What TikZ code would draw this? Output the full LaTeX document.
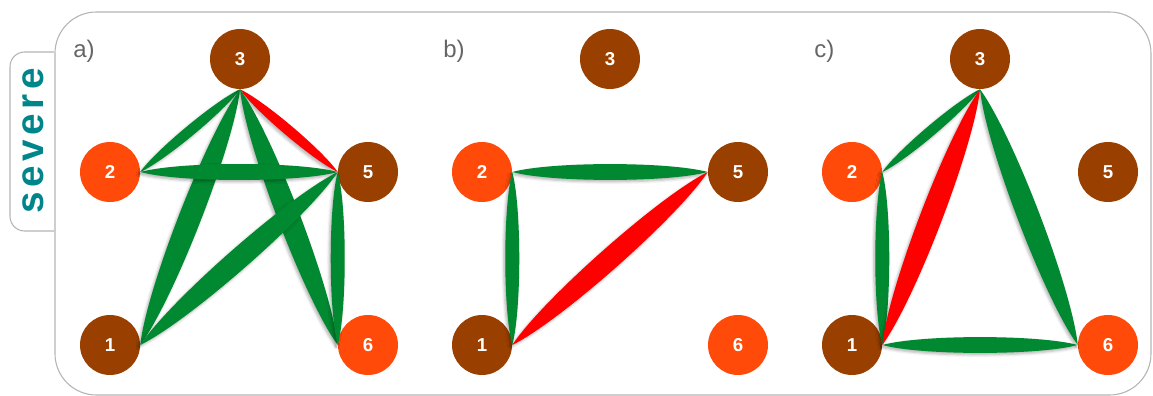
\documentclass[tikz,border=0pt]{standalone}
\usepackage{fontspec}
\setmainfont{Liberation Sans}
\newfontfamily\tabfont[LetterSpace=12]{Liberation Sans}
\usetikzlibrary{calc, shadows.blur}
\definecolor{nodebrown}{HTML}{994000}
\definecolor{nodeorange}{HTML}{FF4A0A}
\definecolor{linkgreen}{HTML}{008930}
\definecolor{linkred}{HTML}{FF0000}
\definecolor{tabteal}{HTML}{00868A}
\definecolor{framegray}{HTML}{B4B4B4}
\definecolor{labelgray}{HTML}{666666}
\tikzset{
  brownnode/.style={circle, fill=nodebrown, text=white, inner sep=0pt, minimum size=45pt,
    font=\fontsize{14}{16}\selectfont\bfseries},
  orangenode/.style={brownnode, fill=nodeorange},
  lens/.style={to path={
    .. controls ($(\tikztostart)!0.2072!15.1:(\tikztotarget)$) and ($(\tikztotarget)!0.2072!-15.1:(\tikztostart)$) .. (\tikztotarget)
    .. controls ($(\tikztotarget)!0.2072!15.1:(\tikztostart)$) and ($(\tikztostart)!0.2072!-15.1:(\tikztotarget)$) .. (\tikztostart)}},
  linkshadow/.style={blur shadow={shadow xshift=-1.2pt, shadow yshift=-1.5pt,
    shadow blur radius=2pt, shadow opacity=30}},
  goodlink/.style={fill=linkgreen, linkshadow},
  badlink/.style={fill=linkred, linkshadow},
  panellabel/.style={anchor=base west, inner sep=0pt, text=labelgray,
    font=\fontsize{18}{20}\selectfont}
}
\begin{document}
\begin{tikzpicture}[x=0.75pt, y=-0.75pt]
\useasboundingbox (0,0) rectangle (1153,396);
% tab and frame
\draw[framegray, line width=0.8pt, rounded corners=11pt] (54,52) -- (10,52) -- (10,231) -- (54,231);
\draw[framegray, line width=0.8pt, rounded corners=31pt] (55,12) rectangle (1151,395);
\node[rotate=90, anchor=base, inner sep=0pt, text=tabteal,
  font=\tabfont\bfseries\fontsize{29}{30}\selectfont] (severe) at (43,141) {severe};
% panel labels
\node[panellabel] (la) at (73,57) {a)};
\node[panellabel] (lb) at (443,57) {b)};
\node[panellabel] (lc) at (814,57) {c)};
% panel a
\node[brownnode] (a3) at (240,59) {3};
\node[orangenode] (a2) at (110,172) {2};
\node[brownnode] (a5) at (368,172) {5};
\node[brownnode] (a1) at (110,345) {1};
\node[orangenode] (a6) at (368,345) {6};
% panel b
\node[brownnode] (b3) at (610,59) {3};
\node[orangenode] (b2) at (482,172) {2};
\node[brownnode] (b5) at (738,172) {5};
\node[brownnode] (b1) at (482,345) {1};
\node[orangenode] (b6) at (738,345) {6};
% panel c
\node[brownnode] (c3) at (980,59) {3};
\node[orangenode] (c2) at (852,172) {2};
\node[brownnode] (c5) at (1108,172) {5};
\node[brownnode] (c1) at (852,345) {1};
\node[orangenode] (c6) at (1108,345) {6};
% links a
\fill[goodlink] (a3.south) to[lens] (a2.east);
\fill[badlink] (a3.south) to[lens] (a5.west);
\fill[goodlink] (a3.south) to[lens] (a1.east);
\fill[goodlink] (a3.south) to[lens] (a6.west);
\fill[goodlink] (a2.east) to[lens] (a5.west);
\fill[goodlink] (a5.west) to[lens] (a6.west);
\fill[goodlink] (a5.west) to[lens] (a1.east);
% links b
\fill[goodlink] (b2.east) to[lens] (b5.west);
\fill[goodlink] (b2.east) to[lens] (b1.east);
\fill[badlink] (b1.east) to[lens] (b5.west);
% links c
\fill[goodlink] (c3.south) to[lens] (c2.east);
\fill[goodlink] (c3.south) to[lens] (c6.west);
\fill[goodlink] (c2.east) to[lens] (c1.east);
\fill[goodlink] (c1.east) to[lens] (c6.west);
\fill[badlink] (c3.south) to[lens] (c1.east);
\end{tikzpicture}
\end{document}
